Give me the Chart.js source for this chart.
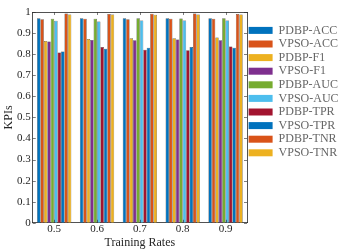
<!DOCTYPE html>
<html>
<head>
<meta charset="utf-8">
<script src="https://cdn.jsdelivr.net/npm/chart.js@4.4.1/dist/chart.umd.min.js"></script>
<style>
  html, body { margin: 0; padding: 0; background: #fff; }
  #wrap { width: 340px; height: 249px; }
</style>
</head>
<body>
<div id="wrap"><canvas id="kpi-chart"></canvas></div>
<script>
const rates = ["0.5", "0.6", "0.7", "0.8", "0.9"];
const seriesNames = [
  "PDBP-ACC", "VPSO-ACC", "PDBP-F1", "VPSO-F1", "PDBP-AUC",
  "VPSO-AUC", "PDBP-TPR", "VPSO-TPR", "PDBP-TNR", "VPSO-TNR",
];
const pdbpAcc = [0.970, 0.970, 0.970, 0.970, 0.970];
const vpsoAcc = [0.966, 0.968, 0.966, 0.968, 0.968];
const pdbpF1 = [0.863, 0.872, 0.875, 0.875, 0.879];
const vpsoF1 = [0.860, 0.867, 0.866, 0.869, 0.866];
const pdbpAuc = [0.968, 0.968, 0.970, 0.969, 0.970];
const vpsoAuc = [0.958, 0.955, 0.960, 0.960, 0.960];
const pdbpTpr = [0.808, 0.834, 0.821, 0.818, 0.836];
const vpsoTpr = [0.813, 0.826, 0.831, 0.834, 0.831];
const pdbpTnr = [0.993, 0.990, 0.992, 0.993, 0.990];
const vpsoTnr = [0.988, 0.988, 0.987, 0.988, 0.988];
const yTicks = [0, 0.1, 0.2, 0.3, 0.4, 0.5, 0.6, 0.7, 0.8, 0.9, 1];

const allValues = [pdbpAcc, vpsoAcc, pdbpF1, vpsoF1, pdbpAuc, vpsoAuc, pdbpTpr, vpsoTpr, pdbpTnr, vpsoTnr];
const colors = [
  "#0072BD", "#D95319", "#EDB120", "#7E2F8E", "#77AC30",
  "#4DBEEE", "#A2142F", "#0072BD", "#D95319", "#EDB120",
];

const serif = "'Liberation Serif', 'Times New Roman', serif";
const axisColor = "#262626";

// inward tick marks on all four sides, like the matlab box
const innerTicks = {
  id: "innerTicks",
  afterDraw(chart) {
    const ctx = chart.ctx;
    const a = chart.chartArea;
    const xs = chart.scales.x;
    const ys = chart.scales.y;
    ctx.save();
    ctx.strokeStyle = axisColor;
    ctx.lineWidth = 0.6;
    ctx.beginPath();
    ys.ticks.forEach((t, i) => {
      const py = Math.round(ys.getPixelForTick(i)) + 0.5;
      ctx.moveTo(a.left, py);
      ctx.lineTo(a.left + 3, py);
      ctx.moveTo(a.right, py);
      ctx.lineTo(a.right - 3, py);
    });
    xs.ticks.forEach((t, i) => {
      const px = Math.round(xs.getPixelForTick(i)) + 0.5;
      ctx.moveTo(px, a.bottom);
      ctx.lineTo(px, a.bottom - 3);
      ctx.moveTo(px, a.top);
      ctx.lineTo(px, a.top + 3);
    });
    ctx.stroke();
    ctx.restore();
  },
};

const noGrid = { display: false, drawTicks: false };
const border = { display: true, color: axisColor, width: 0.8 };

new Chart(document.getElementById("kpi-chart").getContext("2d"), {
  type: "bar",
  data: {
    labels: rates,
    datasets: seriesNames.map((name, i) => ({
      label: name,
      data: allValues[i],
      backgroundColor: colors[i],
      borderColor: "#333333",
      borderWidth: 0.5,
      categoryPercentage: 0.8,
      barPercentage: 1,
    })),
  },
  options: {
    responsive: true,
    maintainAspectRatio: false,
    animation: false,
    layout: { padding: { top: 12, right: 0, left: 0, bottom: 0 } },
    plugins: {
      tooltip: { enabled: false },
      legend: {
        position: "right",
        align: "start",
        maxWidth: 93,
        title: { display: true, text: " ", font: { size: 9 }, padding: 0 },
        labels: {
          boxWidth: 24,
          boxHeight: 7,
          padding: 1.6,
          color: "#000",
          font: { family: serif, size: 12 },
          generateLabels(chart) {
            return chart.data.datasets.map((ds, i) => ({
              text: ds.label,
              fillStyle: ds.backgroundColor,
              strokeStyle: ds.backgroundColor,
              lineWidth: 0,
              datasetIndex: i,
            }));
          },
        },
      },
    },
    scales: {
      x: {
        grid: noGrid,
        border: border,
        ticks: { color: axisColor, font: { family: serif, size: 11, lineHeight: 1 }, padding: 1 },
        title: {
          display: true,
          text: "Training Rates",
          color: axisColor,
          font: { family: serif, size: 12, lineHeight: 1.1 },
          padding: { top: 0, bottom: 0 },
        },
      },
      x2: {
        type: "category",
        labels: rates,
        position: "top",
        grid: noGrid,
        border: border,
        ticks: { display: false },
      },
      y: {
        min: 0,
        max: 1,
        grid: noGrid,
        border: border,
        afterBuildTicks(scale) {
          scale.ticks = yTicks.map((v) => ({ value: v }));
        },
        ticks: {
          color: axisColor,
          font: { family: serif, size: 11 },
          padding: 2,
          callback: (v) => (v === 0 || v === 1 ? String(v) : v.toFixed(1)),
        },
        title: {
          display: true,
          text: "KPIs",
          color: axisColor,
          font: { family: serif, size: 12, lineHeight: 1 },
          padding: { top: 3, bottom: 0 },
        },
      },
      y2: {
        position: "right",
        min: 0,
        max: 1,
        grid: noGrid,
        border: border,
        ticks: { display: false },
      },
    },
  },
  plugins: [innerTicks],
});
</script>
</body>
</html>
